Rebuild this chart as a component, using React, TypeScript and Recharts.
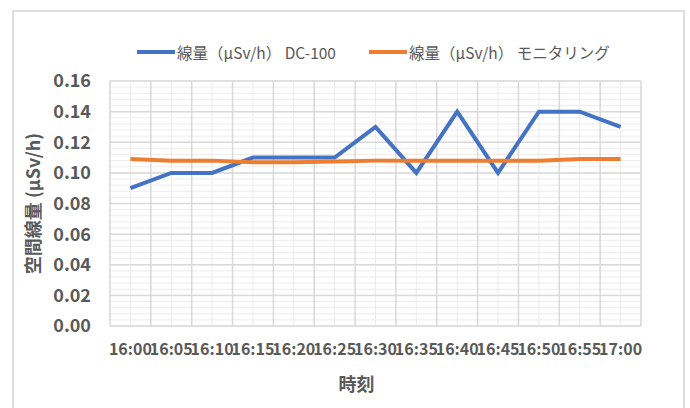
import React from "react";
import {
  LineChart,
  Line,
  XAxis,
  YAxis,
  CartesianGrid,
  Legend,
  Label,
} from "recharts";

const times = [
  "16:00", "16:05", "16:10", "16:15", "16:20", "16:25", "16:30",
  "16:35", "16:40", "16:45", "16:50", "16:55", "17:00",
];
const dc100 = [0.09, 0.1, 0.1, 0.11, 0.11, 0.11, 0.13, 0.1, 0.14, 0.1, 0.14, 0.14, 0.13];
const monitoring = [0.109, 0.108, 0.108, 0.107, 0.107, 0.1075, 0.108, 0.108, 0.108, 0.108, 0.108, 0.109, 0.109];

const yTicks = [0, 0.02, 0.04, 0.06, 0.08, 0.1, 0.12, 0.14, 0.16];
const yMinorTicks = [
  0, 0.004, 0.008, 0.012, 0.016, 0.02, 0.024, 0.028, 0.032, 0.036, 0.04,
  0.044, 0.048, 0.052, 0.056, 0.06, 0.064, 0.068, 0.072, 0.076, 0.08,
  0.084, 0.088, 0.092, 0.096, 0.1, 0.104, 0.108, 0.112, 0.116, 0.12,
  0.124, 0.128, 0.132, 0.136, 0.14, 0.144, 0.148, 0.152, 0.156, 0.16,
];
const boundaryIndex = [0, 1, 2, 3, 4, 5, 6, 7, 8, 9, 10, 11, 12, 13];

const seriesNames = ["線量（µSv/h） DC-100", "線量（µSv/h） モニタリング"];
const seriesColors = ["#4472C4", "#ED7D31"];
const yAxisTitle = "空間線量 (µSv/h)";
const xAxisTitle = "時刻";

const data = times.map((t, i) => ({ time: t, dc: dc100[i], mon: monitoring[i] }));

const FONT = "'Noto Sans CJK JP', 'Noto Sans', sans-serif";
const TEXT = "#595959";

const LegendContent = () => (
  <div
    style={{
      display: "flex",
      alignItems: "center",
      height: 20,
      paddingLeft: 137,
      fontFamily: FONT,
      fontSize: 15.5,
      color: TEXT,
      whiteSpace: "nowrap",
    }}
  >
    {seriesNames.map((n, i) => (
      <div key={n} style={{ display: "flex", alignItems: "center", marginRight: 33 }}>
        <div style={{ width: 38, height: 4, background: seriesColors[i], marginRight: 2 }} />
        <span>{n}</span>
      </div>
    ))}
  </div>
);

const boundaryGenerator = ({ offset }: any) =>
  boundaryIndex.map((i) => offset.left + (i * offset.width) / times.length);

export default function App() {
  return (
    <div style={{ position: "absolute", left: 0, top: 0, width: 690, height: 408 }}>
      <div
        style={{
          position: "absolute",
          left: 12,
          top: 10,
          width: 673,
          height: 420,
          border: "2px solid #dedede",
          boxSizing: "border-box",
        }}
      />
      <LineChart
        width={690}
        height={408}
        data={data}
        margin={{ top: 61, right: 49, left: 0, bottom: 52 }}
      >
        <XAxis
          dataKey="time"
          interval={0}
          height={30}
          padding={{ left: 20.4, right: 20.4 }}
          axisLine={false}
          tickLine={false}
          tickMargin={12}
          tick={{ fill: TEXT, fontSize: 16, fontWeight: 700, fontFamily: FONT }}
        >
          <Label
            content={({ viewBox }: any) => (
              <text
                x={viewBox.x + viewBox.width / 2 - 19}
                y={viewBox.y + 57}
                textAnchor="middle"
                dominantBaseline="central"
                fill={TEXT}
                fontSize={18}
                fontWeight={700}
                fontFamily={FONT}
              >
                {xAxisTitle}
              </text>
            )}
          />
        </XAxis>
        <YAxis
          domain={[0, 0.16]}
          ticks={yTicks}
          width={110}
          axisLine={false}
          tickLine={false}
          tickMargin={13}
          tickFormatter={(v: number) => v.toFixed(2)}
          tick={{ fill: TEXT, fontSize: 18, fontWeight: 700, fontFamily: FONT }}
        >
          <Label
            content={({ viewBox }: any) => {
              const cx = 32;
              const cy = viewBox.y + viewBox.height / 2;
              return (
                <text
                  x={cx}
                  y={cy}
                  transform={`rotate(-90 ${cx} ${cy})`}
                  textAnchor="middle"
                  dominantBaseline="central"
                  fill={TEXT}
                  fontSize={18}
                  fontWeight={700}
                  fontFamily={FONT}
                >
                  {yAxisTitle}
                </text>
              );
            }}
          />
        </YAxis>
        <YAxis
          yAxisId="minor"
          domain={[0, 0.16]}
          allowDataOverflow
          ticks={yMinorTicks}
          interval={0}
          hide
        />
        <CartesianGrid yAxisId="minor" vertical={false} stroke="#ececec" strokeWidth={1} />
        <CartesianGrid horizontal={false} stroke="#ececec" strokeWidth={1} />
        <CartesianGrid
          horizontal={false}
          verticalCoordinatesGenerator={boundaryGenerator}
          stroke="#d9d9d9"
          strokeWidth={1.5}
        />
        <CartesianGrid vertical={false} stroke="#d9d9d9" strokeWidth={1.5} />
        <Legend
          verticalAlign="top"
          align="left"
          content={<LegendContent />}
          wrapperStyle={{ top: 42, left: 0, width: 690 }}
        />
        <Line
          dataKey="dc"
          name={seriesNames[0]}
          stroke={seriesColors[0]}
          strokeWidth={4}
          dot={false}
          isAnimationActive={false}
        />
        <Line
          dataKey="mon"
          name={seriesNames[1]}
          stroke={seriesColors[1]}
          strokeWidth={4}
          dot={false}
          isAnimationActive={false}
        />
      </LineChart>
    </div>
  );
}
